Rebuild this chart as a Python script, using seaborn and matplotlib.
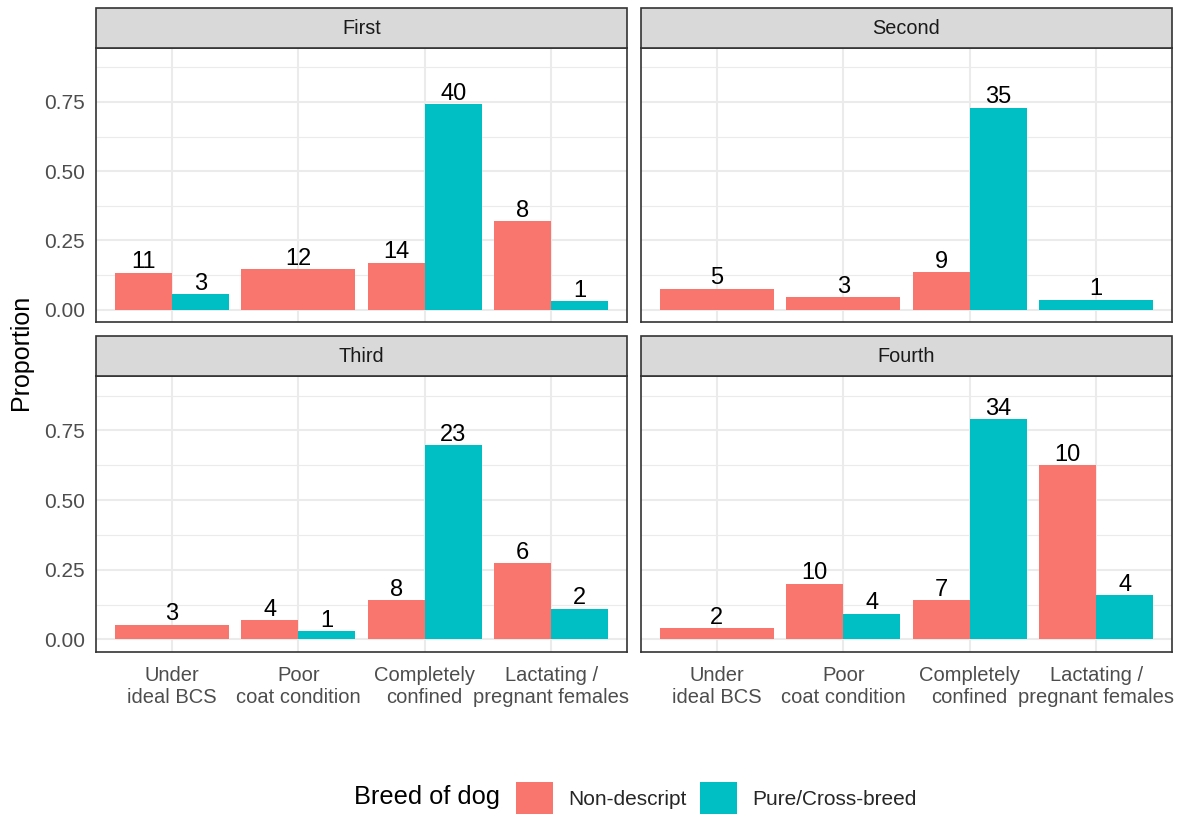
import numpy as np
import pandas as pd
import matplotlib
matplotlib.use("Agg")
import matplotlib.pyplot as plt
import matplotlib.colors as mcolors
from matplotlib.patches import Rectangle, Patch
from matplotlib.ticker import MultipleLocator
import seaborn as sns

# ---- data -------------------------------------------------------------
conditions = ["Under\nideal BCS", "Poor\ncoat condition",
              "Completely\nconfined", "Lactating /\npregnant females"]
waves = ["First", "Second", "Third", "Fourth"]
breeds = ["Non-descript", "Pure/Cross-breed"]
nan = np.nan

# proportion of dogs per condition (NaN = no dogs in that group)
first_nondescript = [0.133, 0.145, 0.169, 0.320]
first_purecross = [0.055, nan, 0.741, 0.031]
second_nondescript = [0.075, 0.045, 0.134, nan]
second_purecross = [nan, nan, 0.729, 0.036]
third_nondescript = [0.053, 0.070, 0.140, 0.273]
third_purecross = [nan, 0.030, 0.697, 0.111]
fourth_nondescript = [0.040, 0.200, 0.140, 0.625]
fourth_purecross = [nan, 0.093, 0.791, 0.160]

# number of dogs behind each bar
first_nondescript_n = [11, 12, 14, 8]
first_purecross_n = [3, None, 40, 1]
second_nondescript_n = [5, 3, 9, None]
second_purecross_n = [None, None, 35, 1]
third_nondescript_n = [3, 4, 8, 6]
third_purecross_n = [None, 1, 23, 2]
fourth_nondescript_n = [2, 10, 7, 10]
fourth_purecross_n = [None, 4, 34, 4]

props = {
    "First": (first_nondescript, first_purecross),
    "Second": (second_nondescript, second_purecross),
    "Third": (third_nondescript, third_purecross),
    "Fourth": (fourth_nondescript, fourth_purecross),
}
counts = {
    "First": (first_nondescript_n, first_purecross_n),
    "Second": (second_nondescript_n, second_purecross_n),
    "Third": (third_nondescript_n, third_purecross_n),
    "Fourth": (fourth_nondescript_n, fourth_purecross_n),
}

rows = []
for w in waves:
    for b, (vals, ns) in zip(breeds, zip(props[w], counts[w])):
        for c, v, n in zip(conditions, vals, ns):
            rows.append(dict(wave=w, condition=c, breed=b, proportion=v, n=n))
df = pd.DataFrame(rows)

# ---- style --------------------------------------------------------------
palette = {"Non-descript": "#F8766D", "Pure/Cross-breed": "#00BFC4"}
sns.set_theme(style="white")
plt.rcParams["font.family"] = ["Liberation Sans", "DejaVu Sans"]

W, H = 1184, 816
fig = plt.figure(figsize=(W / 100, H / 100), dpi=100)

def fx(px):
    return px / W

def fy(py):
    return 1 - py / H

panel_x = [(96, 627), (641, 1172)]
panel_y = [(48, 322), (376, 652)]
strip_h = 40

for k, w in enumerate(waves):
    r, c = divmod(k, 2)
    x0, x1 = panel_x[c]
    y0, y1 = panel_y[r]
    ax = fig.add_axes([fx(x0), fy(y1), fx(x1 - x0), (y1 - y0) / H])
    sub = df[df.wave == w]
    sns.barplot(data=sub, x="condition", y="proportion", hue="breed",
                order=conditions, hue_order=breeds, palette=palette,
                dodge=True, width=0.9, errorbar=None, legend=False,
                saturation=1, ax=ax, zorder=3)

    # a condition with only one breed present gets the full dodge width
    bars = [p for p in ax.patches if p.get_height() > 0]
    by_cat = {}
    for p in bars:
        ci = int(round(p.get_x() + p.get_width() / 2))
        by_cat.setdefault(ci, []).append(p)
    for ci, ps in by_cat.items():
        if len(ps) == 1:
            ps[0].set_x(ci - 0.45)
            ps[0].set_width(0.9)

    # count labels above bars
    for p in bars:
        p.set_edgecolor("none")
        ci = int(round(p.get_x() + p.get_width() / 2))
        col = mcolors.to_hex(p.get_facecolor())
        breed = "Non-descript" if col.lower() == "#f8766d" else "Pure/Cross-breed"
        row = sub[(sub.condition == conditions[ci]) & (sub.breed == breed)].iloc[0]
        ax.annotate(f"{int(row.n)}", (p.get_x() + p.get_width() / 2, p.get_height()),
                    xytext=(0, -0.5), textcoords="offset points",
                    ha="center", va="bottom", fontsize=17, color="black",
                    zorder=4)

    ax.set_xlim(-0.6, 3.6)
    ax.set_ylim(-0.045, 0.945)
    ax.yaxis.set_major_locator(MultipleLocator(0.25))
    ax.yaxis.set_minor_locator(MultipleLocator(0.125))
    ax.grid(True, which="major", color="#EBEBEB", linewidth=1.5, zorder=0)
    ax.grid(True, which="minor", axis="y", color="#EBEBEB", linewidth=0.8, zorder=0)
    ax.set_axisbelow(True)
    for s in ax.spines.values():
        s.set_color("#333333")
        s.set_linewidth(1.2)
        s.set_visible(True)
    ax.set_xlabel("")
    ax.set_ylabel("")
    ax.tick_params(axis="both", which="major", length=4, width=1.1,
                   color="#333333", labelcolor="#4D4D4D")
    ax.tick_params(axis="y", which="major", pad=4, labelsize=15)
    ax.tick_params(axis="x", which="major", pad=6, labelsize=14.5)
    ax.tick_params(axis="both", which="minor", length=0)
    if c == 0:
        ax.set_yticks([0, 0.25, 0.5, 0.75])
        ax.set_yticklabels(["0.00", "0.25", "0.50", "0.75"])
    else:
        ax.tick_params(axis="y", which="major", length=0, labelleft=False)
    if r == 1:
        ax.set_xticks(range(4))
        ax.set_xticklabels(conditions, linespacing=1.18)
    else:
        ax.tick_params(axis="x", which="major", length=0, labelbottom=False)

    # facet strip
    fig.patches.append(Rectangle((fx(x0), fy(y0)), fx(x1 - x0), strip_h / H,
                                 transform=fig.transFigure, facecolor="#D9D9D9",
                                 edgecolor="#333333", linewidth=1.2, zorder=1))
    fig.text(fx((x0 + x1) / 2), fy(y0 - strip_h / 2), w, ha="center", va="center",
             fontsize=14.3, color="#1A1A1A")

fig.text(fx(21), fy(352), "Proportion", rotation=90, ha="center", va="center",
         fontsize=18, color="black")

# legend along the bottom
handles = [Patch(facecolor=palette[b], edgecolor="none", label=b) for b in breeds]
fig.legend(handles=handles, loc="center left", bbox_to_anchor=(fx(516), fy(798)),
           ncol=2, frameon=False, fontsize=15, handlelength=1.78, handleheight=2.05,
           handletextpad=0.75, columnspacing=0.6, borderaxespad=0, borderpad=0)
fig.text(fx(500), fy(797), "Breed of dog", ha="right", va="center",
         fontsize=18.3, color="black")

fig.savefig("out.png", dpi=100, facecolor="white")
